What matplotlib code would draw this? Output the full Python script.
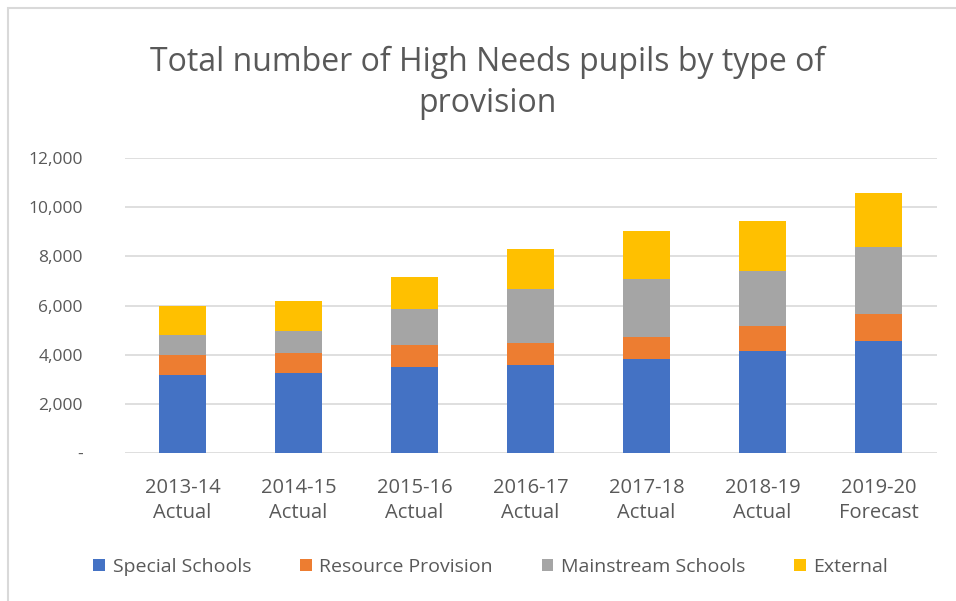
import numpy as np
import matplotlib.pyplot as plt
from matplotlib.patches import Rectangle
from matplotlib.ticker import FuncFormatter

plt.rcParams['font.family'] = ['Open Sans', 'DejaVu Sans']

# Données
years = ["2013-14\nActual", "2014-15\nActual", "2015-16\nActual", "2016-17\nActual",
         "2017-18\nActual", "2018-19\nActual", "2019-20\nForecast"]
special = [3190, 3270, 3510, 3590, 3820, 4150, 4570]
resource = [810, 810, 900, 900, 910, 1000, 1070]
mainstream = [810, 900, 1460, 2190, 2340, 2260, 2750]
external = [1150, 1220, 1300, 1630, 1970, 2040, 2200]

series = [("Special Schools", special, "#4472C4"),
          ("Resource Provision", resource, "#ED7D31"),
          ("Mainstream Schools", mainstream, "#A5A5A5"),
          ("External", external, "#FFC000")]

fig = plt.figure(figsize=(9.56, 6.01), dpi=100)
ax = fig.add_axes([124.5 / 956, 1 - 453 / 601, 812 / 956, 295 / 601])

x = np.arange(len(years))
bottom = np.zeros(len(years))
for name, vals, col in series:
    ax.bar(x, vals, bottom=bottom, width=0.4, color=col, label=name, zorder=3)
    bottom += np.array(vals)

ax.set_xlim(-0.5, len(years) - 0.5)
ax.set_ylim(0, 12000)
ax.set_yticks(range(0, 12001, 2000))
ax.yaxis.set_major_formatter(FuncFormatter(lambda v, p: "-" if v == 0 else f"{int(v):,}"))
ax.set_xticks(x)
ax.set_xticklabels(years, fontsize=14.5, linespacing=1.3)
ax.grid(axis='y', color='#D9D9D9', linewidth=1.2, zorder=0)
for s in ax.spines.values():
    s.set_visible(False)
ax.tick_params(axis='both', length=0, colors='#595959')
ax.tick_params(axis='y', pad=30, labelsize=12.5)
ax.tick_params(axis='x', pad=18)

fig.text(0.51, 0.862, "Total number of High Needs pupils by type of\nprovision",
         ha='center', va='center', fontsize=23, color='#595959', linespacing=1.35)

ax.legend(loc='center', bbox_to_anchor=(0.451, -0.386), ncol=4, frameon=False,
          fontsize=14, labelcolor='#595959', handlelength=0.6, handleheight=0.6,
          columnspacing=2.5, handletextpad=0.4)

# cadre du graphique
fig.patches.append(Rectangle((8 / 956, -0.1), 1.2, 1 - 8 / 601 + 0.1, transform=fig.transFigure,
                             fill=False, edgecolor='#D9D9D9', linewidth=1.5))

fig.savefig("out.png", dpi=100)
